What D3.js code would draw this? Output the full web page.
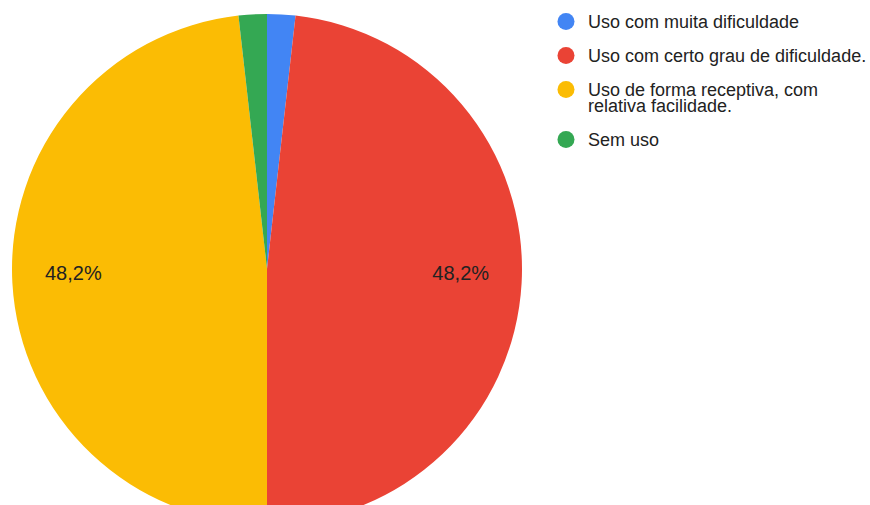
<!DOCTYPE html>
<html>
<head>
<meta charset="utf-8">
<script src="https://cdn.jsdelivr.net/npm/d3@7"></script>
<style>
  html, body { margin: 0; padding: 0; background: #fff; }
  svg { display: block; }
  text { font-family: "Liberation Sans", Arial, sans-serif; }
</style>
</head>
<body>
<svg id="chart" width="870" height="505"></svg>
<script>
// Response categories (legend lines split where they wrap)
const categories = [
  ["Uso com muita dificuldade"],
  ["Uso com certo grau de dificuldade."],
  ["Uso de forma receptiva, com", "relativa facilidade."],
  ["Sem uso"]
];
// Number of responses per category
const counts = [1, 27, 27, 1];
const colors = ["#4285f4", "#ea4335", "#fbbc04", "#34a853"];

const svg = d3.select("#chart");
const width = 870, height = 505;

// Pie geometry
const cx = 267, cy = 269, radius = 255;
const total = d3.sum(counts);

const pie = d3.pie().sort(null).value(d => d)(counts);
const arc = d3.arc().innerRadius(0).outerRadius(radius);
const labelArc = d3.arc().innerRadius(194).outerRadius(194);

const g = svg.append("g").attr("transform", `translate(${cx},${cy})`);

g.selectAll("path.slice")
  .data(pie)
  .join("path")
  .attr("class", "slice")
  .attr("d", arc)
  .attr("fill", (d, i) => colors[i]);

// Percentage labels only for slices large enough to fit them
const fmt = v => (v * 100).toFixed(1).replace(".", ",") + "%";
g.selectAll("text.pct")
  .data(pie.filter(d => d.value / total > 0.05))
  .join("text")
  .attr("class", "pct")
  .attr("x", d => labelArc.centroid(d)[0])
  .attr("y", d => labelArc.centroid(d)[1])
  .attr("text-anchor", "middle")
  .attr("font-size", 20)
  .attr("fill", "#222")
  .text(d => fmt(d.value / total));

// Legend
const legend = svg.append("g").attr("transform", "translate(566,0)");
const lineH = 16, rowGap = 18;
let y = 28;
categories.forEach((lines, i) => {
  const row = legend.append("g");
  row.append("circle")
    .attr("cx", 0)
    .attr("cy", y - 6.5)
    .attr("r", 8.5)
    .attr("fill", colors[i]);
  const t = row.append("text")
    .attr("x", 22)
    .attr("y", y)
    .attr("font-size", 18)
    .attr("fill", "#222");
  lines.forEach((ln, j) => {
    t.append("tspan").attr("x", 22).attr("y", y + j * lineH).text(ln);
  });
  y += lines.length * lineH + rowGap;
});
</script>
</body>
</html>
